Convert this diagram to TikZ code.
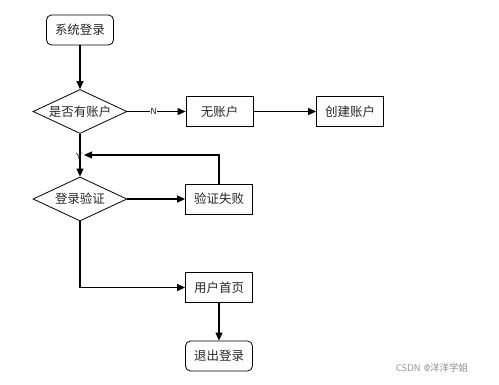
\documentclass[tikz,border=0pt]{standalone}
\usepackage{fontspec}
\newfontfamily\cjk{Noto Sans CJK SC}
\usetikzlibrary{shapes.geometric,arrows.meta}
\begin{document}
\begin{tikzpicture}[x=1pt,y=-1pt,
  font=\cjk\fontsize{12.5}{14}\selectfont,
  every node/.style={text=black!85},
  term/.style={draw, rounded corners=5pt, line width=0.8pt, minimum width=67pt, minimum height=30pt, inner sep=1pt},
  proc/.style={draw, line width=0.8pt, minimum width=67pt, minimum height=30pt, inner sep=1pt},
  dec/.style={draw, diamond, aspect=2.15, line width=0.8pt, minimum width=94pt, minimum height=44pt, inner sep=0pt},
  conn/.style={line width=1.1pt, -{Triangle[length=8pt,width=7pt]}},
  lab/.style={font=\sffamily\fontsize{9}{10}\selectfont, fill=white, inner sep=0.3pt}]
\useasboundingbox (0,0) rectangle (499,384);
\node[term] (start) at (80,30) {系统登录};
\node[dec] (d1) at (80,111.5) {是否有账户};
\node[proc] (noacc) at (219.5,111.5) {无账户};
\node[proc] (create) at (350,111.5) {创建账户};
\node[dec] (d2) at (80,199) {登录验证};
\node[proc] (fail) at (219,199) {验证失败};
\node[proc] (home) at (219,287.5) {用户首页};
\node[term] (quit) at (219,356) {退出登录};
\coordinate (y) at (84,155);
\coordinate (turn) at (80,287.5);
\draw[conn] (start) -- (d1);
\draw[conn] (d1) -- node[lab, pos=0.45] {N} (noacc);
\draw[conn] (noacc) -- (create);
\draw[conn] (d1) -- (d2);
\draw[conn] (fail.north) |- (y);
\node[lab, fill=none] (ylab) at (79,156) {Y};
\draw[conn] (d2) -- (fail);
\draw[conn] (d2.south) -- (turn) -- (home.west);
\draw[conn] (home) -- (quit);
\node[font=\sffamily\fontsize{9.5}{11}\selectfont, text=black!45] (wm) at (432,368) {CSDN @\cjk 洋洋学姐};
\end{tikzpicture}
\end{document}
